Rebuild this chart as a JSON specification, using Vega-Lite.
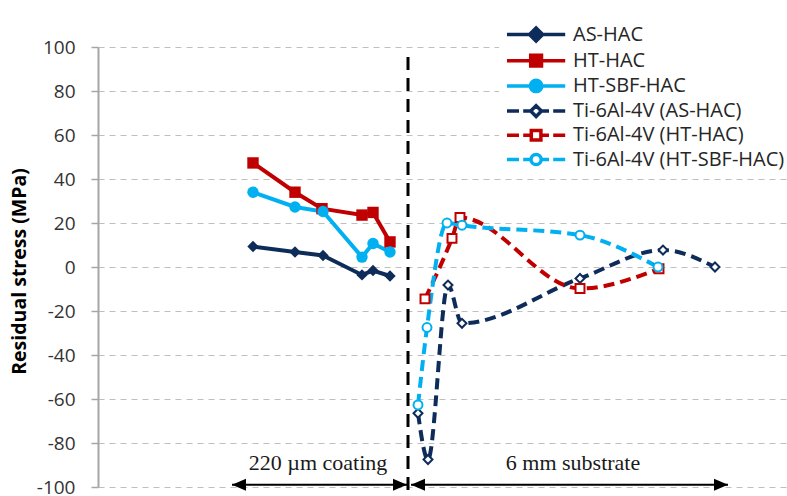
{
  "$schema": "https://vega.github.io/schema/vega-lite/v6.json",
  "width": 689,
  "height": 440,
  "autosize": {"type": "none"},
  "padding": {"left": 98, "top": 47, "right": 0, "bottom": 9},
  "background": "white",
  "config": {"view": {"stroke": null}, "font": "Open Sans"},
  "resolve": {"legend": {"color": "independent", "shape": "independent"}},
  "datasets": {
    "stress": [
      {"series": "AS-HAC", "pos": 155, "stress": 9.3},
      {"series": "AS-HAC", "pos": 197, "stress": 6.8},
      {"series": "AS-HAC", "pos": 225, "stress": 5.2},
      {"series": "AS-HAC", "pos": 264, "stress": -3.6},
      {"series": "AS-HAC", "pos": 275, "stress": -1.6},
      {"series": "AS-HAC", "pos": 292, "stress": -4.1},
      {"series": "HT-HAC", "pos": 155, "stress": 47.3},
      {"series": "HT-HAC", "pos": 197, "stress": 34},
      {"series": "HT-HAC", "pos": 224, "stress": 26.5},
      {"series": "HT-HAC", "pos": 264, "stress": 23.6},
      {"series": "HT-HAC", "pos": 275, "stress": 24.8},
      {"series": "HT-HAC", "pos": 292, "stress": 11.4},
      {"series": "HT-SBF-HAC", "pos": 155, "stress": 34},
      {"series": "HT-SBF-HAC", "pos": 197, "stress": 27.3},
      {"series": "HT-SBF-HAC", "pos": 225, "stress": 25.2},
      {"series": "HT-SBF-HAC", "pos": 264, "stress": 4.5},
      {"series": "HT-SBF-HAC", "pos": 275, "stress": 10.7},
      {"series": "HT-SBF-HAC", "pos": 292, "stress": 6.8},
      {"series": "Ti-6Al-4V (AS-HAC)", "pos": 320, "stress": -66.5},
      {"series": "Ti-6Al-4V (AS-HAC)", "pos": 330, "stress": -87.5},
      {"series": "Ti-6Al-4V (AS-HAC)", "pos": 350, "stress": -8.2},
      {"series": "Ti-6Al-4V (AS-HAC)", "pos": 364, "stress": -25.6},
      {"series": "Ti-6Al-4V (AS-HAC)", "pos": 482, "stress": -5.2},
      {"series": "Ti-6Al-4V (AS-HAC)", "pos": 565, "stress": 7.7},
      {"series": "Ti-6Al-4V (AS-HAC)", "pos": 617, "stress": 0},
      {"series": "Ti-6Al-4V (HT-HAC)", "pos": 327, "stress": -14.5},
      {"series": "Ti-6Al-4V (HT-HAC)", "pos": 354, "stress": 13},
      {"series": "Ti-6Al-4V (HT-HAC)", "pos": 362, "stress": 22.5},
      {"series": "Ti-6Al-4V (HT-HAC)", "pos": 482, "stress": -9.8},
      {"series": "Ti-6Al-4V (HT-HAC)", "pos": 561, "stress": -0.8},
      {"series": "Ti-6Al-4V (HT-SBF-HAC)", "pos": 320, "stress": -62.7},
      {"series": "Ti-6Al-4V (HT-SBF-HAC)", "pos": 329, "stress": -27.5},
      {"series": "Ti-6Al-4V (HT-SBF-HAC)", "pos": 349, "stress": 20},
      {"series": "Ti-6Al-4V (HT-SBF-HAC)", "pos": 364, "stress": 19},
      {"series": "Ti-6Al-4V (HT-SBF-HAC)", "pos": 482, "stress": 14.5},
      {"series": "Ti-6Al-4V (HT-SBF-HAC)", "pos": 560, "stress": 0}
    ],
    "divider": [{"x": 310, "top": 95.5, "bottom": -105}],
    "spans": [
      {"label": "220 µm coating", "start": 134, "end": 309, "mid": 220, "y": -99, "ty": -89},
      {"label": "6 mm substrate", "start": 313, "end": 630, "mid": 475, "y": -99, "ty": -89}
    ]
  },
  "layer": [
    {
      "data": {"name": "stress"},
      "transform": [{"filter": {"field": "series", "oneOf": ["AS-HAC", "HT-HAC", "HT-SBF-HAC"]}}],
      "mark": {"type": "line", "strokeWidth": 4, "interpolate": "linear"},
      "encoding": {
        "x": {"field": "pos", "type": "quantitative", "scale": {"domain": [0, 689]}, "axis": null},
        "y": {
          "field": "stress", "type": "quantitative",
          "scale": {"domain": [-100, 100], "nice": false, "zero": false},
          "axis": {
            "title": "Residual stress (MPa)",
            "titleFont": "Open Sans", "titleFontSize": 19.5, "titleFontWeight": "bold", "titleColor": "#000000",
            "titleX": -69, "titleY": 224, "titleAngle": -90, "titleBaseline": "bottom", "titleAlign": "center",
            "values": [-100, -80, -60, -40, -20, 0, 20, 40, 60, 80, 100],
            "labelExpr": "'' + datum.value",
            "labelFont": "Open Sans", "labelFontSize": 19, "labelColor": "#333333", "labelPadding": 16,
            "domainColor": "#a6a6a6", "domainWidth": 2, "tickColor": "#a6a6a6", "tickWidth": 1.5, "tickSize": 7,
            "grid": true, "gridColor": "#bfbfbf", "gridDash": [6, 5], "gridWidth": 1.2
          }
        },
        "color": {
          "field": "series", "type": "nominal",
          "scale": {
            "domain": ["AS-HAC", "HT-HAC", "HT-SBF-HAC", "Ti-6Al-4V (AS-HAC)", "Ti-6Al-4V (HT-HAC)", "Ti-6Al-4V (HT-SBF-HAC)"],
            "range": ["#0E2C5A", "#C00000", "#00B0F0", "#0E2C5A", "#C00000", "#00B0F0"]
          },
          "legend": {
            "title": null, "orient": "none", "legendX": 401, "legendY": -26.5,
            "fillColor": "white", "padding": 4,
            "labelFont": "Open Sans", "labelFontSize": 20, "labelColor": "#262626", "labelOffset": 50, "labelLimit": 400,
            "symbolSize": 144, "symbolStrokeWidth": 3.5, "rowPadding": -0.8,
            "encode": {
              "symbols": {
                "update": {
                  "shape": {"signal": "datum.value === 'AS-HAC' ? 'M-1,0L8.7,0M3.85,-1.1L4.95,0L3.85,1.1L2.75,0Z' : datum.value === 'HT-HAC' ? 'M-1,0L8.7,0M2.95,-0.9L4.75,-0.9L4.75,0.9L2.95,0.9Z' : datum.value === 'HT-SBF-HAC' ? 'M-1,0L8.7,0M2.9,0A0.95,0.95 0 1,0 4.8,0A0.95,0.95 0 1,0 2.9,0Z' : datum.value === 'Ti-6Al-4V (AS-HAC)' ? 'M-1,0L1,0M1.7,0L2.95,0M4.75,0L6,0M6.7,0L8.7,0M3.85,-0.9L4.75,0L3.85,0.9L2.95,0Z' : datum.value === 'Ti-6Al-4V (HT-HAC)' ? 'M-1,0L1,0M1.7,0L3.05,0M4.65,0L6,0M6.7,0L8.7,0M3.05,-0.8L4.65,-0.8L4.65,0.8L3.05,0.8Z' : 'M-1,0L1,0M1.7,0L3,0M4.7,0L6,0M6.7,0L8.7,0M3,0A0.85,0.85 0 1,0 4.7,0A0.85,0.85 0 1,0 3,0Z'"},
                  "fill": {"signal": "(datum.value === 'AS-HAC' || datum.value === 'HT-HAC' || datum.value === 'HT-SBF-HAC') ? scale('color', datum.value) : 'white'"},
                  "strokeWidth": {"value": 3.5},
                  "opacity": {"value": 1}
                }
              }
            }
          }
        }
      }
    },
    {
      "data": {"name": "stress"},
      "transform": [{"filter": {"field": "series", "oneOf": ["Ti-6Al-4V (AS-HAC)", "Ti-6Al-4V (HT-HAC)", "Ti-6Al-4V (HT-SBF-HAC)"]}}],
      "mark": {"type": "line", "strokeWidth": 4, "strokeDash": [11, 6], "interpolate": "monotone"},
      "encoding": {
        "x": {"field": "pos", "type": "quantitative", "scale": {"domain": [0, 689]}, "axis": null},
        "y": {"field": "stress", "type": "quantitative", "scale": {"domain": [-100, 100], "nice": false, "zero": false}},
        "color": {"field": "series", "type": "nominal", "legend": null}
      }
    },
    {
      "data": {"name": "stress"},
      "transform": [{"filter": {"field": "series", "oneOf": ["AS-HAC", "HT-HAC", "HT-SBF-HAC"]}}],
      "mark": {"type": "point", "filled": true, "opacity": 1, "size": 130, "strokeWidth": 1},
      "encoding": {
        "x": {"field": "pos", "type": "quantitative", "scale": {"domain": [0, 689]}, "axis": null},
        "y": {"field": "stress", "type": "quantitative", "scale": {"domain": [-100, 100], "nice": false, "zero": false}},
        "color": {"field": "series", "type": "nominal", "legend": null},
        "shape": {
          "field": "series", "type": "nominal",
          "scale": {
            "domain": ["AS-HAC", "Ti-6Al-4V (AS-HAC)", "HT-HAC", "Ti-6Al-4V (HT-HAC)", "HT-SBF-HAC", "Ti-6Al-4V (HT-SBF-HAC)"],
            "range": ["diamond", "diamond", "square", "square", "circle", "circle"]
          },
          "legend": null
        }
      }
    },
    {
      "data": {"name": "stress"},
      "transform": [{"filter": {"field": "series", "oneOf": ["Ti-6Al-4V (AS-HAC)", "Ti-6Al-4V (HT-HAC)", "Ti-6Al-4V (HT-SBF-HAC)"]}}],
      "mark": {"type": "point", "filled": false, "fill": "white", "opacity": 1, "size": 80, "strokeWidth": 2},
      "encoding": {
        "x": {"field": "pos", "type": "quantitative", "scale": {"domain": [0, 689]}, "axis": null},
        "y": {"field": "stress", "type": "quantitative", "scale": {"domain": [-100, 100], "nice": false, "zero": false}},
        "color": {"field": "series", "type": "nominal", "legend": null},
        "shape": {"field": "series", "type": "nominal", "legend": null}
      }
    },
    {
      "data": {"name": "divider"},
      "mark": {"type": "rule", "color": "black", "strokeWidth": 3, "strokeDash": [13, 8]},
      "encoding": {
        "x": {"field": "x", "type": "quantitative", "scale": {"domain": [0, 689]}, "axis": null},
        "y": {"field": "top", "type": "quantitative", "scale": {"domain": [-100, 100], "nice": false, "zero": false}},
        "y2": {"field": "bottom"}
      }
    },
    {
      "data": {"name": "spans"},
      "mark": {"type": "rule", "color": "black", "strokeWidth": 2},
      "encoding": {
        "x": {"field": "start", "type": "quantitative", "scale": {"domain": [0, 689]}, "axis": null},
        "x2": {"field": "end"},
        "y": {"field": "y", "type": "quantitative", "scale": {"domain": [-100, 100], "nice": false, "zero": false}}
      }
    },
    {
      "data": {"name": "spans"},
      "mark": {"type": "point", "shape": "M0,0L2,-0.85L2,0.85Z", "filled": true, "color": "black", "opacity": 1, "size": 196},
      "encoding": {
        "x": {"field": "start", "type": "quantitative", "scale": {"domain": [0, 689]}, "axis": null},
        "y": {"field": "y", "type": "quantitative", "scale": {"domain": [-100, 100], "nice": false, "zero": false}}
      }
    },
    {
      "data": {"name": "spans"},
      "mark": {"type": "point", "shape": "M0,0L-2,-0.85L-2,0.85Z", "filled": true, "color": "black", "opacity": 1, "size": 196},
      "encoding": {
        "x": {"field": "end", "type": "quantitative", "scale": {"domain": [0, 689]}, "axis": null},
        "y": {"field": "y", "type": "quantitative", "scale": {"domain": [-100, 100], "nice": false, "zero": false}}
      }
    },
    {
      "data": {"name": "spans"},
      "mark": {"type": "text", "font": "Liberation Serif", "fontSize": 22, "color": "#1a1a1a", "baseline": "middle", "align": "center"},
      "encoding": {
        "x": {"field": "mid", "type": "quantitative", "scale": {"domain": [0, 689]}, "axis": null},
        "y": {"field": "ty", "type": "quantitative", "scale": {"domain": [-100, 100], "nice": false, "zero": false}},
        "text": {"field": "label"}
      }
    }
  ]
}
